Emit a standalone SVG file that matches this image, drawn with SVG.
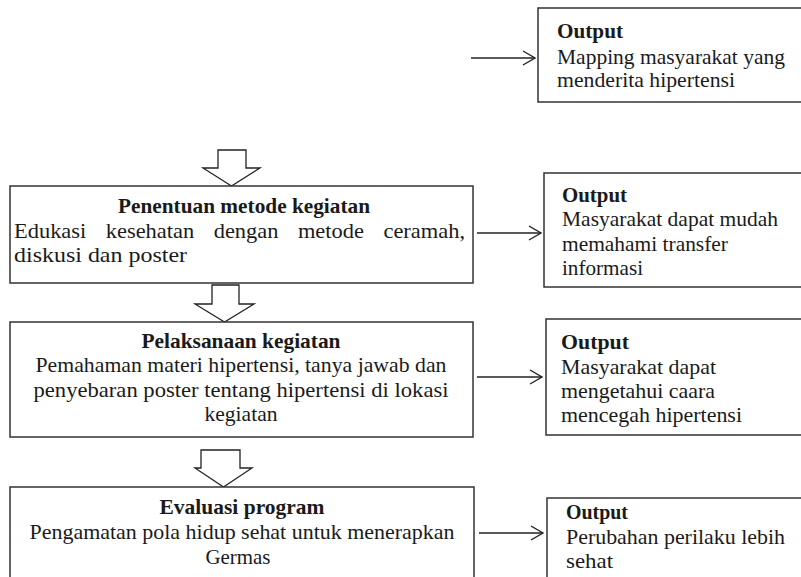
<svg xmlns="http://www.w3.org/2000/svg" width="801" height="577" viewBox="0 0 801 577">
<defs>
<style>
.box{fill:#fff;stroke:#333;stroke-width:1.5}
.blk{fill:#fff;stroke:#222;stroke-width:1.3;stroke-linejoin:miter}
.t{font-family:"Liberation Serif","Times New Roman",serif;font-size:21px;fill:#1a1a1a}
.l{font-size:22px}
.b{font-weight:bold}
.c{text-anchor:middle}
.ln{stroke:#222;stroke-width:1.4;fill:none}
</style>
<marker id="ah" markerUnits="userSpaceOnUse" markerWidth="16" markerHeight="18" refX="13" refY="8" orient="auto">
<path d="M1,1 L13,8 L1,15" fill="none" stroke="#222" stroke-width="1.4"/>
</marker>
</defs>
<rect width="801" height="577" fill="#fff"/>

<g id="output1">
<rect class="box" x="538" y="8" width="270" height="94"/>
<text class="t b" x="557" y="38" textLength="66" lengthAdjust="spacingAndGlyphs">Output</text>
<text class="t" x="557" y="64" textLength="228" lengthAdjust="spacingAndGlyphs">Mapping masyarakat yang</text>
<text class="t" x="557" y="87" textLength="178" lengthAdjust="spacingAndGlyphs">menderita hipertensi</text>
</g>

<g id="arrow1">
<path class="blk" d="M218,150 H246 V168 H260 L231.5,186 L203,168 H218 Z"/>
</g>

<g id="box1">
<rect class="box" x="10" y="186" width="463" height="97"/>
<text class="t b c" x="244" y="213" textLength="252" lengthAdjust="spacingAndGlyphs">Penentuan metode kegiatan</text>
<text class="t" x="14" y="238" word-spacing="13" textLength="451" lengthAdjust="spacingAndGlyphs">Edukasi kesehatan dengan metode ceramah,</text>
<text class="t" x="14" y="262" textLength="173" lengthAdjust="spacingAndGlyphs">diskusi dan poster</text>
</g>

<g id="output2">
<rect class="box" x="544" y="173" width="264" height="114"/>
<text class="t b" x="562" y="202" textLength="65" lengthAdjust="spacingAndGlyphs">Output</text>
<text class="t" x="562" y="226" textLength="216" lengthAdjust="spacingAndGlyphs">Masyarakat dapat mudah</text>
<text class="t" x="562" y="251" textLength="166" lengthAdjust="spacingAndGlyphs">memahami transfer</text>
<text class="t" x="562" y="275" textLength="81" lengthAdjust="spacingAndGlyphs">informasi</text>
</g>

<g id="arrow2">
<path class="blk" d="M212,285 H239 V304 H254 L224.5,322 L195,304 H212 Z"/>
</g>

<g id="box2">
<rect class="box" x="10" y="322" width="463" height="115"/>
<text class="t b c" x="241" y="348" textLength="199" lengthAdjust="spacingAndGlyphs">Pelaksanaan kegiatan</text>
<text class="t c" x="241" y="372" textLength="411" lengthAdjust="spacingAndGlyphs">Pemahaman materi hipertensi, tanya jawab dan</text>
<text class="t c" x="241" y="397" textLength="415" lengthAdjust="spacingAndGlyphs">penyebaran poster tentang hipertensi di lokasi</text>
<text class="t c" x="241" y="421" textLength="73" lengthAdjust="spacingAndGlyphs">kegiatan</text>
</g>

<g id="output3">
<rect class="box" x="546" y="319" width="262" height="116"/>
<text class="t b" x="561" y="349" textLength="68" lengthAdjust="spacingAndGlyphs">Output</text>
<text class="t" x="561" y="374" textLength="155" lengthAdjust="spacingAndGlyphs">Masyarakat dapat</text>
<text class="t" x="561" y="398" textLength="154" lengthAdjust="spacingAndGlyphs">mengetahui caara</text>
<text class="t" x="561" y="422" textLength="181" lengthAdjust="spacingAndGlyphs">mencegah hipertensi</text>
</g>

<g id="arrow3">
<path class="blk" d="M201,450 H240 V468 H252 L223.5,487 L195,468 H201 Z"/>
</g>

<g id="box3">
<rect class="box" x="10" y="487" width="464" height="100"/>
<text class="t l b c" x="242" y="514" textLength="165" lengthAdjust="spacingAndGlyphs">Evaluasi program</text>
<text class="t l c" x="242" y="539" textLength="425" lengthAdjust="spacingAndGlyphs">Pengamatan pola hidup sehat untuk menerapkan</text>
<text class="t l c" x="238" y="564" textLength="65" lengthAdjust="spacingAndGlyphs">Germas</text>
</g>

<g id="output4">
<rect class="box" x="547" y="498" width="261" height="90"/>
<text class="t l b" x="566" y="519" textLength="62" lengthAdjust="spacingAndGlyphs">Output</text>
<text class="t l" x="566" y="544" textLength="219" lengthAdjust="spacingAndGlyphs">Perubahan perilaku lebih</text>
<text class="t l" x="566" y="568" textLength="47" lengthAdjust="spacingAndGlyphs">sehat</text>
</g>

<g id="connectors">
<line class="ln" x1="471" y1="58" x2="535" y2="58" marker-end="url(#ah)"/>
<line class="ln" x1="477" y1="233" x2="541" y2="233" marker-end="url(#ah)"/>
<line class="ln" x1="477" y1="377" x2="542" y2="377" marker-end="url(#ah)"/>
<line class="ln" x1="479" y1="533" x2="543" y2="533" marker-end="url(#ah)"/>
</g>
</svg>
